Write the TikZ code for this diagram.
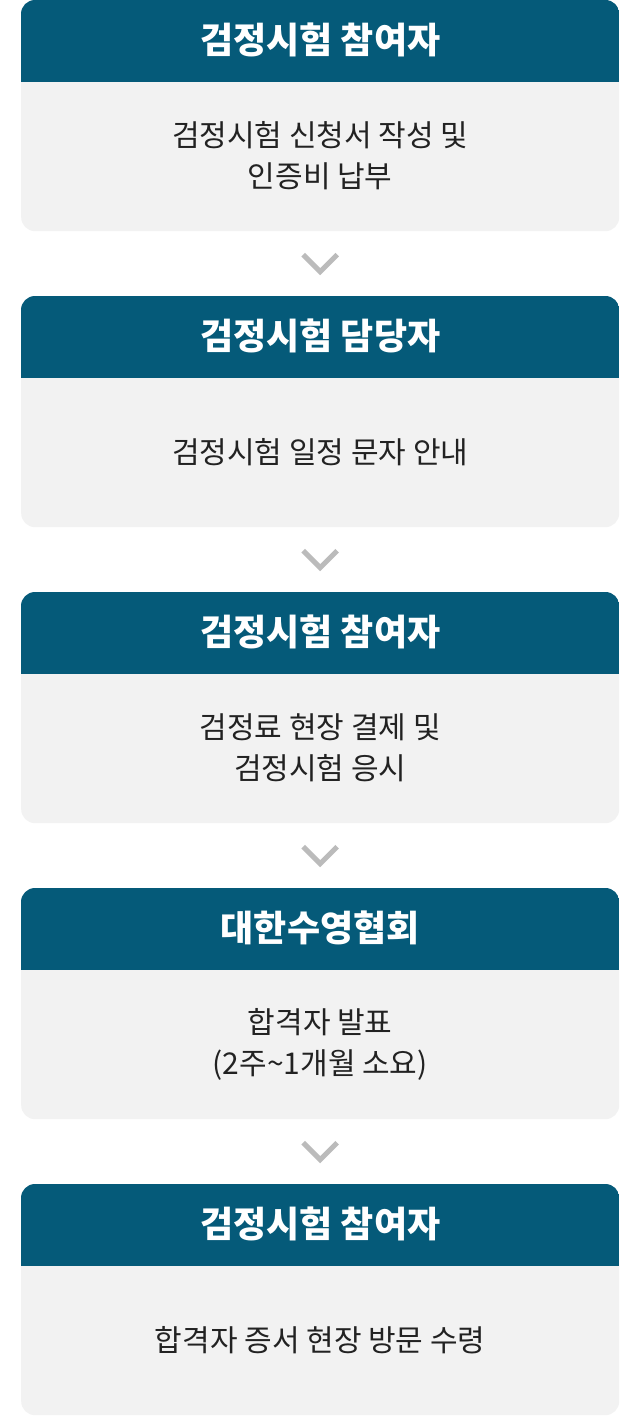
\documentclass[tikz,border=0pt]{standalone}
\usepackage{fontspec}
\setmainfont{Noto Sans CJK KR}
\usetikzlibrary{calc}
\definecolor{headc}{HTML}{055A79}
\definecolor{bodyc}{HTML}{F2F2F2}
\definecolor{chevc}{HTML}{BBBBBB}
\definecolor{textc}{HTML}{222222}
\tikzset{
  x=1pt, y=-1pt,
  card/.style={minimum width=598pt, minimum height=231pt, inner sep=0pt, fill=bodyc, rounded corners=14pt, anchor=north west},
  headtxt/.style={text=white, font=\fontsize{36}{40}\selectfont\bfseries, inner sep=0pt},
  bodytxt/.style={text=textc, font=\fontsize{30}{41}\selectfont, align=center, inner sep=0pt},
  chev/.style={draw=chevc, line width=5pt, line cap=butt, line join=miter},
}
\newcommand{\mkcard}[4]{%
  \node[card] (#1) at (21,#2) {};
  \begin{scope}
    \clip[rounded corners=14pt] (#1.north west) rectangle (#1.south east);
    \fill[headc] (#1.north west) rectangle ($(#1.north east)+(0,82)$);
  \end{scope}
  \node[headtxt] (#1h) at ($(#1.north)+(0,40)$) {#3};
  \node[bodytxt] (#1b) at ($(#1.north)+(0,156)$) {#4};
}
\begin{document}
\begin{tikzpicture}
\useasboundingbox[fill=white] (0,0) rectangle (640,1416);
\mkcard{c1}{0}{검정시험 참여자}{검정시험 신청서 작성 및\\인증비 납부}
\mkcard{c2}{296}{검정시험 담당자}{검정시험 일정 문자 안내}
\mkcard{c3}{592}{검정시험 참여자}{검정료 현장 결제 및\\검정시험 응시}
\mkcard{c4}{888}{대한수영협회}{합격자 발표\\(2주\textasciitilde1개월 소요)}
\mkcard{c5}{1184}{검정시험 참여자}{합격자 증서 현장 방문 수령}
\foreach \a/\b in {c1/c2,c2/c3,c3/c4,c4/c5}{
  \coordinate (\a m) at ($(\a.south)!0.5!(\b.north)$);
  \draw[chev] ($(\a m)+(-17,-9)$) -- ($(\a m)+(0,8)$) -- ($(\a m)+(17,-9)$);
}
\end{tikzpicture}
\end{document}
